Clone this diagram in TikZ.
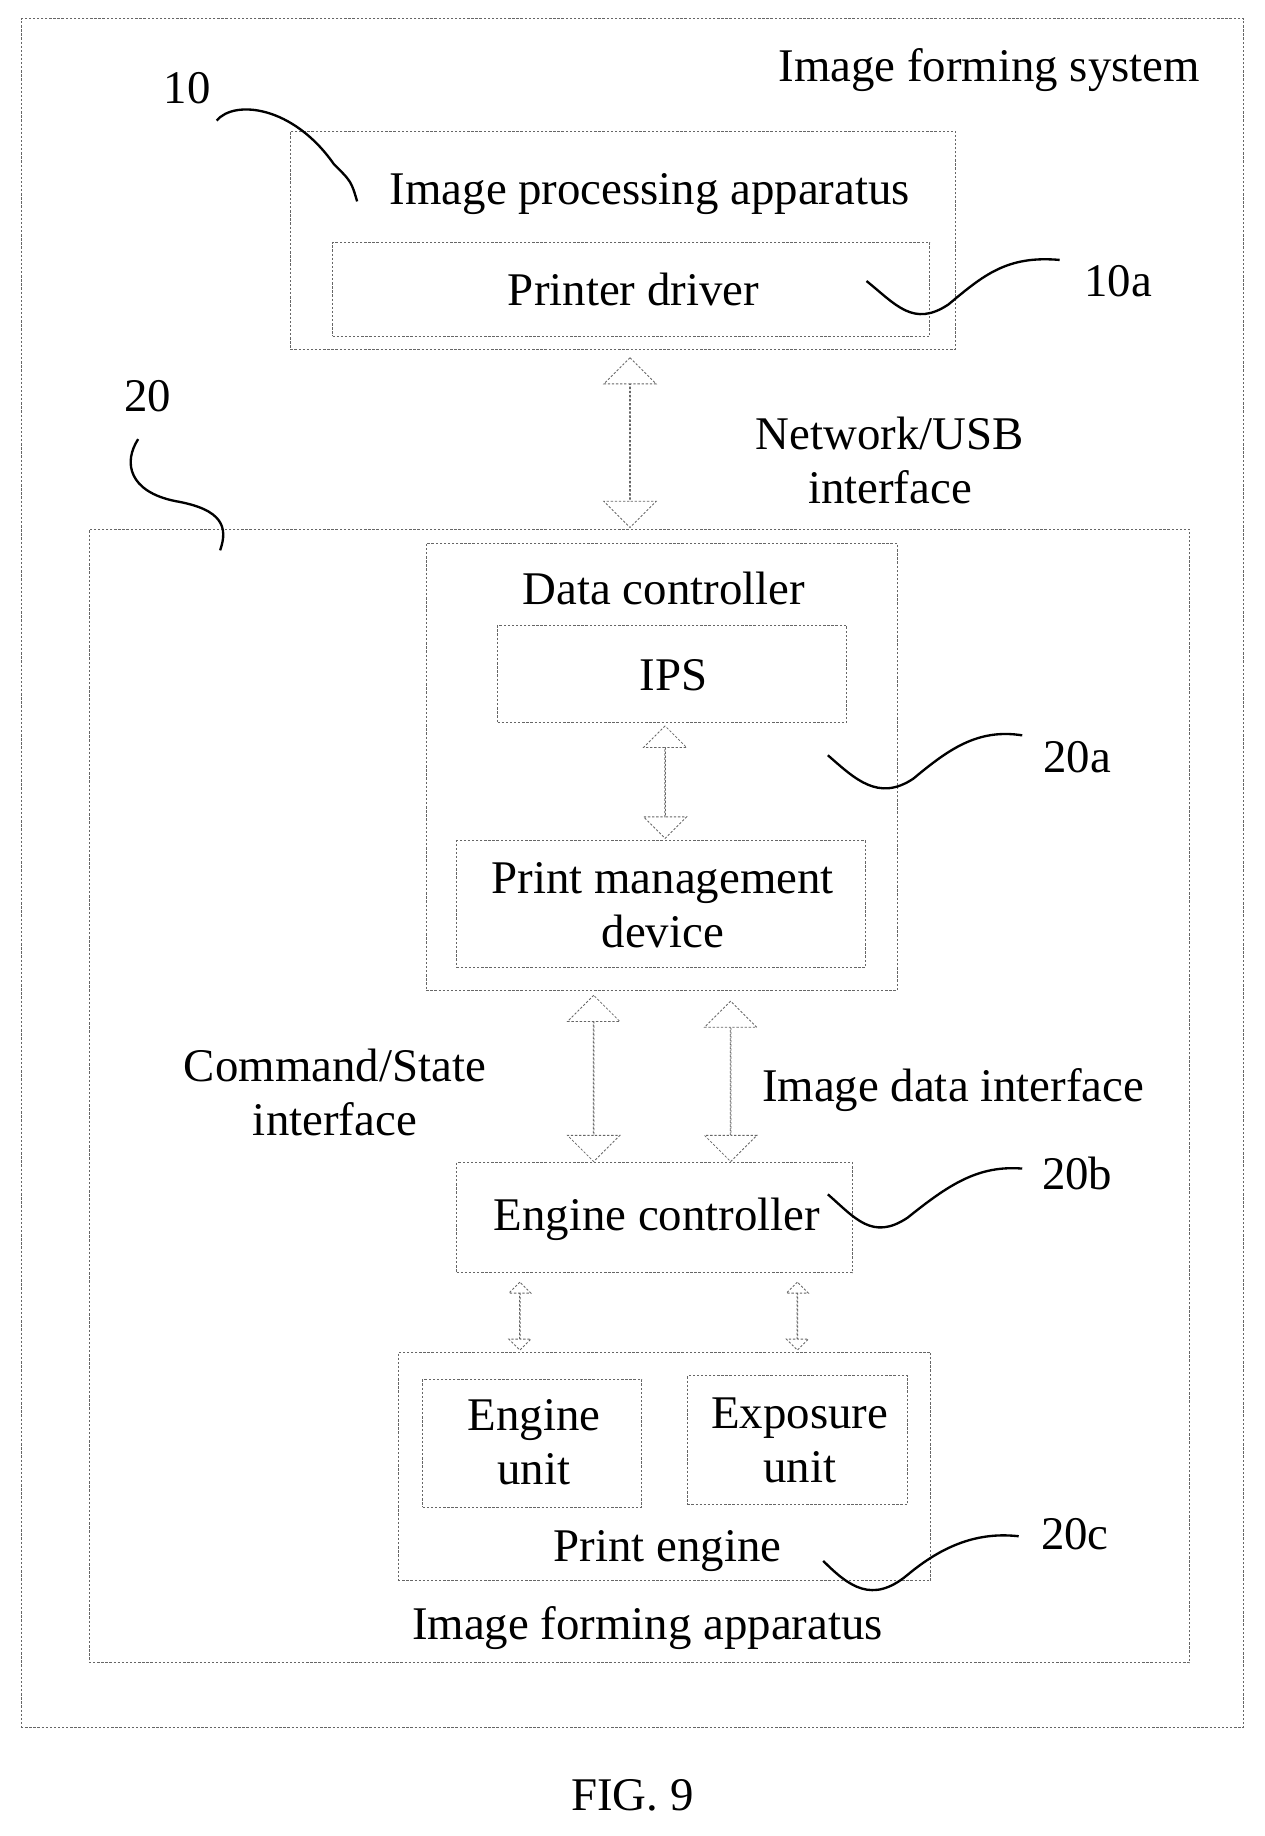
\documentclass[tikz,border=0pt]{standalone}
\usepackage{fontspec}
\setmainfont{Liberation Serif}
\usetikzlibrary{shapes.arrows}
\begin{document}
\begin{tikzpicture}[x=1pt,y=-1pt,
  box/.style={draw=gray!80!black, dash pattern=on 2pt off 1.5pt, line width=0.7pt},
  lbl/.style={font=\fontsize{40}{46}\selectfont, align=center, inner sep=0},
  darr/.style={double arrow, draw=gray!80!black, dash pattern=on 2pt off 1.5pt, line width=0.7pt, shape border rotate=90, inner sep=0, double arrow head extend=22pt},
  sq/.style={line width=2pt}]
\useasboundingbox (0,0) rectangle (1080,1568);
\node[box, minimum width=0, inner sep=0, fit/.style={}] (sys) at (540,745.5) [minimum width=1044pt, minimum height=1459pt] {};
\node[lbl, anchor=east] (syst) at (1025,60) {Image forming system};
% 10
\node[box, minimum width=568pt, minimum height=186pt] (b10) at (532,205) {};
\node[lbl] (t10) at (555,166) {Image processing apparatus};
\node[box, minimum width=510pt, minimum height=80pt] (pd) at (539,247) {};
\node[lbl] (pdt) at (541,247) {Printer driver};
\node[lbl] (l10) at (160,75) {10};
\node[lbl] (l10a) at (955,240) {10a};
\coordinate (s10a) at (185,103); \coordinate (e10a) at (305,172);
\draw[sq] (s10a) .. controls (200,85) and (250,90) .. (285,140) .. controls (300,155) .. (e10a);
\draw[sq] (740,240) .. controls (765,260) and (780,280) .. (810,260) .. controls (840,235) and (860,218) .. (905,222);
% network arrow
\node[darr, minimum height=145pt, minimum width=40pt] (a1) at (538,378) {};
\node[lbl] (net) at (760,393) {Network/USB\\interface};
% 20
\node[box, minimum width=940pt, minimum height=968pt] (b20) at (546,936) {};
\node[lbl] (l20) at (126,338) {20};
\draw[sq] (118,375) .. controls (105,395) and (110,420) .. (150,428) .. controls (190,435) and (195,450) .. (188,470);
\node[lbl] (ifa) at (553,1390) {Image forming apparatus};
% data controller
\node[box, minimum width=402pt, minimum height=382pt] (dc) at (565,655) {};
\node[lbl] (dct) at (567,503) {Data controller};
\node[box, minimum width=298pt, minimum height=83pt] (ips) at (574,575.5) {};
\node[lbl] (ipst) at (575,577) {IPS};
\node[darr, minimum height=96pt, minimum width=36pt, double arrow head extend=18pt] (a2) at (568,668) {};
\node[box, minimum width=349pt, minimum height=108pt] (pm) at (564.5,772) {};
\node[lbl] (pmt) at (566,773) {Print management\\device};
\node[lbl] (l20a) at (920,647) {20a};
\draw[sq] (707,645) .. controls (730,665) and (750,685) .. (780,665) .. controls (810,640) and (835,622) .. (873,628);
% middle arrows
\node[darr, minimum height=142pt, minimum width=42pt] (a3) at (507,921) {};
\node[darr, minimum height=137pt, minimum width=42pt] (a4) at (624,923.5) {};
\node[lbl] (cs) at (286,933) {Command/State\\interface};
\node[lbl] (idi) at (814,931) {Image data interface};
% engine controller
\node[box, minimum width=338pt, minimum height=94pt] (ec) at (559,1040) {};
\node[lbl] (ect) at (561,1041) {Engine controller};
\node[lbl] (l20b) at (920,1002) {20b};
\draw[sq] (707,1020) .. controls (730,1040) and (745,1060) .. (775,1040) .. controls (810,1012) and (835,995) .. (873,998);
% small arrows
\node[darr, minimum height=58pt, minimum width=14pt, double arrow head extend=9pt] (a5) at (444,1124) {};
\node[darr, minimum height=58pt, minimum width=14pt, double arrow head extend=9pt] (a6) at (681,1124) {};
% print engine
\node[box, minimum width=455pt, minimum height=195pt] (pe) at (567.5,1252.5) {};
\node[lbl] (pet) at (570,1325) {Print engine};
\node[box, minimum width=187pt, minimum height=109pt] (eu) at (454.5,1232.5) {};
\node[lbl] (eut) at (456,1232) {Engine\\unit};
\node[box, minimum width=188pt, minimum height=110pt] (xu) at (681,1230) {};
\node[lbl] (xut) at (683,1230) {Exposure\\unit};
\node[lbl] (l20c) at (918,1310) {20c};
\draw[sq] (703,1333) .. controls (725,1355) and (745,1370) .. (775,1345) .. controls (805,1320) and (835,1308) .. (870,1312);
\node[lbl] (fig) at (540,1533) {FIG. 9};
\end{tikzpicture}
\end{document}
